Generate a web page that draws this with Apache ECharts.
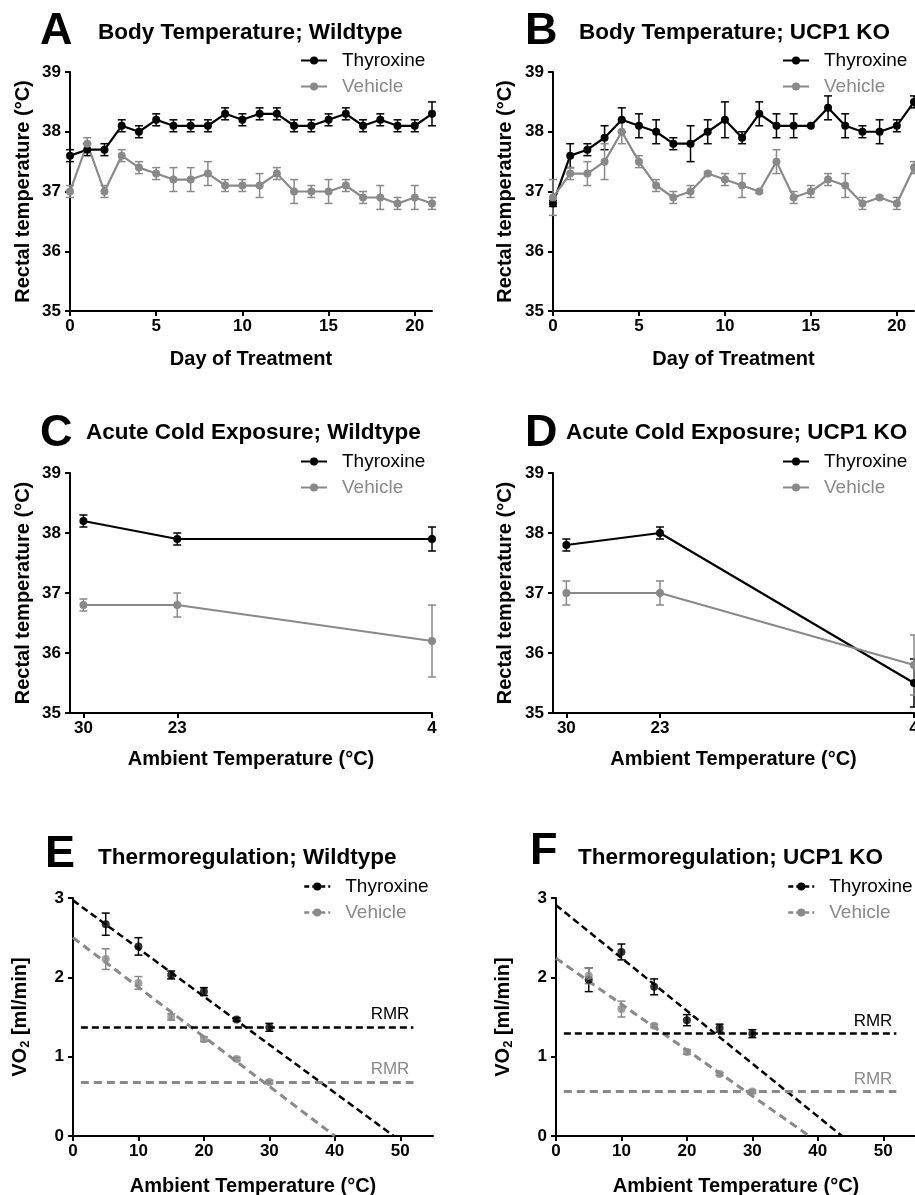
<!DOCTYPE html>
<html>
<head>
<meta charset="utf-8">
<script src="https://cdn.jsdelivr.net/npm/echarts@6/dist/echarts.min.js"></script>
<style>
html,body{margin:0;padding:0;background:#fff}
#chart{width:915px;height:1195px}
</style>
</head>
<body>
<div id="chart"></div>
<script>
var BLACK = '#000000', GREY = '#898989';
var FONT = 'Liberation Sans, Arial, sans-serif';

// A / B : body temperature over days of treatment
var days = [0,1,2,3,4,5,6,7,8,9,10,11,12,13,14,15,16,17,18,19,20,21];
var aThy    = [37.6,37.7,37.7,38.1,38.0,38.2,38.1,38.1,38.1,38.3,38.2,38.3,38.3,38.1,38.1,38.2,38.3,38.1,38.2,38.1,38.1,38.3];
var aThyErr = [0.1,0.1,0.1,0.1,0.1,0.1,0.1,0.1,0.1,0.1,0.1,0.1,0.1,0.1,0.1,0.1,0.1,0.1,0.1,0.1,0.1,0.2];
var aVeh    = [37.0,37.8,37.0,37.6,37.4,37.3,37.2,37.2,37.3,37.1,37.1,37.1,37.3,37.0,37.0,37.0,37.1,36.9,36.9,36.8,36.9,36.8];
var aVehErr = [0.1,0.1,0.1,0.1,0.1,0.1,0.2,0.2,0.2,0.1,0.1,0.2,0.1,0.2,0.1,0.2,0.1,0.1,0.2,0.1,0.2,0.1];
var bThy    = [36.8,37.6,37.7,37.9,38.2,38.1,38.0,37.8,37.8,38.0,38.2,37.9,38.3,38.1,38.1,38.1,38.4,38.1,38.0,38.0,38.1,38.5];
var bThyErr = [0.05,0.2,0.1,0.2,0.2,0.2,0.2,0.1,0.3,0.2,0.3,0.1,0.2,0.2,0.2,0,0.2,0.2,0.1,0.2,0.1,0.1];
var bVeh    = [36.9,37.3,37.3,37.5,38.0,37.5,37.1,36.9,37.0,37.3,37.2,37.1,37.0,37.5,36.9,37.0,37.2,37.1,36.8,36.9,36.8,37.4];
var bVehErr = [0.3,0.1,0.2,0.3,0.2,0.1,0.1,0.1,0.1,0.03,0.1,0.2,0.03,0.2,0.1,0.1,0.1,0.2,0.1,0.03,0.1,0.1];
var dayTicks = [0,5,10,15,20];

// C / D : acute cold exposure
var coldTemp = [30,23,4];
var cThy = [38.2,37.9,37.9], cThyErr = [0.1,0.1,0.2];
var cVeh = [36.8,36.8,36.2], cVehErr = [0.1,0.2,0.6];
var dThy = [37.8,38.0,35.5], dThyErr = [0.1,0.1,0.4];
var dVeh = [37.0,37.0,35.8], dVehErr = [0.2,0.2,0.5];

// E / F : thermoregulation, VO2
var vo2Temp = [5,10,15,20,25,30];
var eThy = [2.67,2.39,2.03,1.82,1.47,1.37], eThyErr = [0.14,0.11,0.05,0.05,0.02,0.05];
var eVeh = [2.23,1.93,1.50,1.22,0.97,0.68], eVehErr = [0.13,0.08,0.04,0.03,0.02,0.02];
var fThy = [1.97,2.32,1.88,1.46,1.36,1.29], fThyErr = [0.15,0.10,0.10,0.07,0.05,0.05];
var fVeh = [2.02,1.60,1.39,1.06,0.78,0.56], fVehErr = [0.10,0.10,0.02,0.03,0.02,0.02];
var eThyFit = [[0,2.97],[49,0]], eVehFit = [[0,2.50],[40,0]];
var fThyFit = [[0,2.91],[43.7,0]], fVehFit = [[0,2.24],[38.7,0]];
var eRmr = [1.375, 0.68], fRmr = [1.29, 0.56];
var rmrX = [1.2, 52];
var ambTicks = [0,10,20,30,40,50];

var letters = ['A','B','C','D','E','F'];
var titles = ['Body Temperature; Wildtype','Body Temperature; UCP1 KO',
  'Acute Cold Exposure; Wildtype','Acute Cold Exposure; UCP1 KO',
  'Thermoregulation; Wildtype','Thermoregulation; UCP1 KO'];

var chart = echarts.init(document.getElementById('chart'));

function pairs(xs, ys){
  var out = [];
  for (var i = 0; i < xs.length; i++) out.push([xs[i], ys[i]]);
  return out;
}
function bars(xs, ys, es){
  var out = [];
  for (var i = 0; i < xs.length; i++) out.push([xs[i], ys[i] - es[i], ys[i] + es[i]]);
  return out;
}

// error bars with caps
function errSeries(gi, data, color){
  return {
    type: 'custom', xAxisIndex: gi, yAxisIndex: gi, data: data, z: 3, silent: true,
    renderItem: function(params, api){
      var x = api.value(0), lo = api.value(1), hi = api.value(2);
      if (hi - lo < 0.001) return null;
      var t = api.coord([x, hi]), b = api.coord([x, lo]);
      var st = {stroke: color, lineWidth: 1.5};
      return {type: 'group', children: [
        {type: 'line', shape: {x1: t[0], y1: t[1], x2: b[0], y2: b[1]}, style: st},
        {type: 'line', shape: {x1: t[0]-4, y1: t[1], x2: t[0]+4, y2: t[1]}, style: st},
        {type: 'line', shape: {x1: b[0]-4, y1: b[1], x2: b[0]+4, y2: b[1]}, style: st}
      ]};
    }
  };
}
function lineSeries(gi, name, data, color){
  return {
    type: 'line', name: name, xAxisIndex: gi, yAxisIndex: gi, data: data, z: 4,
    symbol: 'circle', symbolSize: 8, color: color,
    lineStyle: {color: color, width: 2.2}, itemStyle: {color: color}, animation: false
  };
}
function dotSeries(gi, name, data, color, rmr, dash, w){
  return {
    type: 'scatter', name: name, xAxisIndex: gi, yAxisIndex: gi, data: data, z: 4,
    symbol: 'circle', symbolSize: 8, itemStyle: {color: color}, animation: false,
    markLine: {
      silent: true, symbol: 'none', animation: false,
      lineStyle: {color: color, width: w, type: dash},
      label: {show: true, position: 'insideEndTop', formatter: 'RMR', color: color,
        fontFamily: FONT, fontSize: 17, distance: 4},
      data: [[{coord: [rmrX[0], rmr]}, {coord: [rmrX[1], rmr]}]]
    }
  };
}
function fitSeries(gi, data, color, dash, w){
  return {
    type: 'line', xAxisIndex: gi, yAxisIndex: gi, data: data, z: 2, symbol: 'none',
    lineStyle: {color: color, width: w, type: dash}, silent: true, animation: false
  };
}

var grids = [
  {left: 70,  top: 72,  width: 362, height: 239},
  {left: 553, top: 72,  width: 361, height: 239},
  {left: 70,  top: 473, width: 362, height: 240},
  {left: 553, top: 473, width: 361, height: 240},
  {left: 73,  top: 898, width: 360, height: 238},
  {left: 556, top: 898, width: 360, height: 238}
];
grids.forEach(function(g){ g.outerBoundsMode = 'none'; g.containLabel = false; });

var axLine = {show: true, onZero: false, lineStyle: {color: BLACK, width: 2}};
var axTick = {show: true, length: 5, lineStyle: {color: BLACK, width: 2}};
var axLabel = {fontFamily: FONT, fontSize: 17, fontWeight: 'bold', color: BLACK};
var nameStyle = {fontFamily: FONT, fontSize: 20, fontWeight: 'bold', color: BLACK};

function xAx(gi, min, max, ticks, name, gap, inverse){
  return {
    type: 'value', gridIndex: gi, min: min, max: max, inverse: !!inverse,
    name: name, nameLocation: 'middle', nameGap: gap, nameTextStyle: nameStyle,
    axisLine: axLine,
    axisTick: Object.assign({customValues: ticks}, axTick),
    axisLabel: Object.assign({customValues: ticks, margin: 7}, axLabel),
    splitLine: {show: false}
  };
}
function yAx(gi, min, max, name, gap, rich){
  var ns = rich ? Object.assign({rich: rich}, nameStyle) : nameStyle;
  return {
    type: 'value', gridIndex: gi, min: min, max: max, interval: 1,
    name: name, nameLocation: 'middle', nameGap: gap, nameTextStyle: ns,
    axisLine: axLine, axisTick: axTick,
    axisLabel: Object.assign({margin: 9}, axLabel),
    splitLine: {show: false}
  };
}

var voRich = {
  n: {fontFamily: FONT, fontSize: 20, fontWeight: 'bold', color: BLACK},
  s: {fontFamily: FONT, fontSize: 13, fontWeight: 'bold', color: BLACK, padding: [10, 0, 0, 0]}
};
var voName = '{n|VO}{s|2}{n| [ml/min]}';

var xAxes = [
  xAx(0, 0, 21, dayTicks, 'Day of Treatment', 38),
  xAx(1, 0, 21, dayTicks, 'Day of Treatment', 38),
  xAx(2, 4, 31, coldTemp, 'Ambient Temperature (°C)', 36, true),
  xAx(3, 4, 31, coldTemp, 'Ambient Temperature (°C)', 36, true),
  xAx(4, 0, 55, ambTicks, 'Ambient Temperature (°C)', 40),
  xAx(5, 0, 55, ambTicks, 'Ambient Temperature (°C)', 40)
];
var yAxes = [
  yAx(0, 35, 39, 'Rectal temperature (°C)', 37),
  yAx(1, 35, 39, 'Rectal temperature (°C)', 38),
  yAx(2, 35, 39, 'Rectal temperature (°C)', 37),
  yAx(3, 35, 39, 'Rectal temperature (°C)', 38),
  yAx(4, 0, 3, voName, 41, voRich),
  yAx(5, 0, 3, voName, 41, voRich)
];

var series = [
  errSeries(0, bars(days, aThy, aThyErr), BLACK), lineSeries(0, 'Thyroxine', pairs(days, aThy), BLACK),
  errSeries(0, bars(days, aVeh, aVehErr), GREY),  lineSeries(0, 'Vehicle', pairs(days, aVeh), GREY),
  errSeries(1, bars(days, bThy, bThyErr), BLACK), lineSeries(1, 'Thyroxine', pairs(days, bThy), BLACK),
  errSeries(1, bars(days, bVeh, bVehErr), GREY),  lineSeries(1, 'Vehicle', pairs(days, bVeh), GREY),
  errSeries(2, bars(coldTemp, cThy, cThyErr), BLACK), lineSeries(2, 'Thyroxine', pairs(coldTemp, cThy), BLACK),
  errSeries(2, bars(coldTemp, cVeh, cVehErr), GREY),  lineSeries(2, 'Vehicle', pairs(coldTemp, cVeh), GREY),
  errSeries(3, bars(coldTemp, dThy, dThyErr), BLACK), lineSeries(3, 'Thyroxine', pairs(coldTemp, dThy), BLACK),
  errSeries(3, bars(coldTemp, dVeh, dVehErr), GREY),  lineSeries(3, 'Vehicle', pairs(coldTemp, dVeh), GREY),

  fitSeries(4, eThyFit, BLACK, [7, 4], 2.5), fitSeries(4, eVehFit, GREY, [8, 5], 3),
  errSeries(4, bars(vo2Temp, eThy, eThyErr), BLACK), dotSeries(4, 'Thyroxine', pairs(vo2Temp, eThy), BLACK, eRmr[0], [7, 4], 2.5),
  errSeries(4, bars(vo2Temp, eVeh, eVehErr), GREY),  dotSeries(4, 'Vehicle', pairs(vo2Temp, eVeh), GREY, eRmr[1], [8, 5], 3),
  fitSeries(5, fThyFit, BLACK, [7, 4], 2.5), fitSeries(5, fVehFit, GREY, [8, 5], 3),
  errSeries(5, bars(vo2Temp, fThy, fThyErr), BLACK), dotSeries(5, 'Thyroxine', pairs(vo2Temp, fThy), BLACK, fRmr[0], [7, 4], 2.5),
  errSeries(5, bars(vo2Temp, fVeh, fVehErr), GREY),  dotSeries(5, 'Vehicle', pairs(vo2Temp, fVeh), GREY, fRmr[1], [8, 5], 3)
];

// legends, one per panel
var legendPos = [[300, 51], [782, 51], [300, 452], [782, 452], [303, 877], [787, 877]];
var legends = legendPos.map(function(p, i){
  var dashed = i >= 4;
  var ls = dashed ? {type: [5, 3], width: 2.5} : {width: 2};
  return {
    left: p[0], top: p[1], orient: 'vertical', padding: 0, itemGap: 7,
    itemWidth: 26, itemHeight: 10, selectedMode: false,
    textStyle: {fontFamily: FONT, fontSize: 19, padding: [0, 0, 0, 10]},
    data: [
      {name: 'Thyroxine', textStyle: {color: BLACK}, lineStyle: Object.assign({color: BLACK}, ls), itemStyle: {color: BLACK}},
      {name: 'Vehicle', textStyle: {color: GREY}, lineStyle: Object.assign({color: GREY}, ls), itemStyle: {color: GREY}}
    ]
  };
});

// panel letters and titles
var letterPos = [[40, 32], [525, 32], [40, 434], [525, 434], [45, 855], [530, 852]];
var titlePos = [[98, 33], [579, 33], [86, 433], [566, 433], [98, 858], [578, 858]];
var graphics = [];
letters.forEach(function(l, i){
  graphics.push({type: 'text', x: letterPos[i][0], y: letterPos[i][1],
    style: {text: l, font: 'bold 45px ' + FONT, fill: BLACK, verticalAlign: 'middle', textVerticalAlign: 'middle'}});
  graphics.push({type: 'text', x: titlePos[i][0], y: titlePos[i][1],
    style: {text: titles[i], font: 'bold 22.5px ' + FONT, fill: BLACK, verticalAlign: 'middle', textVerticalAlign: 'middle'}});
});

chart.setOption({
  backgroundColor: '#ffffff',
  animation: false,
  grid: grids,
  xAxis: xAxes,
  yAxis: yAxes,
  legend: legends,
  graphic: graphics,
  series: series
});
</script>
</body>
</html>
